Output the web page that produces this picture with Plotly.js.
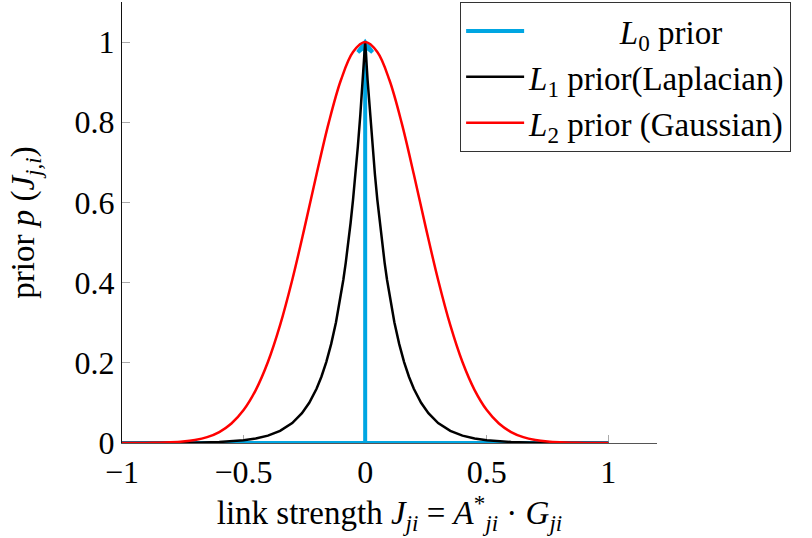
<!DOCTYPE html>
<html>
<head>
<meta charset="utf-8">
<script src="https://cdn.plot.ly/plotly-3.0.1.min.js"></script>
<style>html,body{margin:0;padding:0;background:#fff;}#chart{width:812px;height:538px;}</style>
</head>
<body>
<div id="chart"></div>
<script>
// L0 prior (spike at zero)
const l0X = [-1, 0, 0, -0.03, 0, 0.03, 0, 0, 1];
const l0Y = [0, 0, 0.99, 0.975, 1.0, 0.975, 0.99, 0, 0];

// L1 prior (Laplacian)
const l1X = [-1, -0.9, -0.8, -0.7, -0.6, -0.5, -0.45, -0.4, -0.35, -0.3, -0.26, -0.23, -0.2, -0.18, -0.16, -0.14, -0.12,
  -0.1, -0.09, -0.08, -0.07, -0.06, -0.05, -0.04, -0.03, -0.02, -0.01, 0,
  0.01, 0.02, 0.03, 0.04, 0.05, 0.06, 0.07, 0.08, 0.09, 0.1,
  0.12, 0.14, 0.16, 0.18, 0.2, 0.23, 0.26, 0.3, 0.35, 0.4, 0.45, 0.5, 0.6, 0.7, 0.8, 0.9, 1];
const l1Y = [0, 0.0001, 0.0003, 0.0009, 0.0025, 0.0067, 0.0111, 0.0183, 0.0302, 0.0498, 0.0743, 0.1003, 0.1353, 0.1653, 0.2019, 0.2466, 0.3012,
  0.3679, 0.4066, 0.4493, 0.4966, 0.5488, 0.6065, 0.6703, 0.7408, 0.8187, 0.9048, 1.0,
  0.9048, 0.8187, 0.7408, 0.6703, 0.6065, 0.5488, 0.4966, 0.4493, 0.4066, 0.3679,
  0.3012, 0.2466, 0.2019, 0.1653, 0.1353, 0.1003, 0.0743, 0.0498, 0.0302, 0.0183, 0.0111, 0.0067, 0.0025, 0.0009, 0.0003, 0.0001, 0];

// L2 prior (Gaussian)
const l2X = [-1, -0.95, -0.9, -0.85, -0.8, -0.75, -0.7, -0.65, -0.6, -0.55, -0.5, -0.45, -0.4, -0.35, -0.3, -0.25, -0.2, -0.15, -0.1, -0.05, 0,
  0.05, 0.1, 0.15, 0.2, 0.25, 0.3, 0.35, 0.4, 0.45, 0.5, 0.55, 0.6, 0.65, 0.7, 0.75, 0.8, 0.85, 0.9, 0.95, 1];
const l2Y = [0, 0.0001, 0.0003, 0.0007, 0.0017, 0.0036, 0.0074, 0.0146, 0.0273, 0.0486, 0.0821, 0.1320, 0.2019, 0.2938, 0.4066, 0.5353, 0.6703, 0.7985, 0.9048, 0.9753, 1.0,
  0.9753, 0.9048, 0.7985, 0.6703, 0.5353, 0.4066, 0.2938, 0.2019, 0.1320, 0.0821, 0.0486, 0.0273, 0.0146, 0.0074, 0.0036, 0.0017, 0.0007, 0.0003, 0.0001, 0];

const seriesNames = [
  "\u00A0\u00A0\u00A0\u00A0\u00A0\u00A0\u00A0\u00A0\u00A0\u00A0\u00A0<i>L</i><sub>0</sub> prior",
  "<i>L</i><sub>1</sub> prior(Laplacian)",
  "<i>L</i><sub>2</sub> prior (Gaussian)"
];
const xTickVals = [-1, -0.5, 0, 0.5, 1];
const xTickText = ["\u22121", "\u22120.5", "0", "0.5", "1"];
const yTickVals = [0, 0.2, 0.4, 0.6, 0.8, 1];
const yTickText = ["0", "0.2", "0.4", "0.6", "0.8", "1"];

const FONT = '"Liberation Serif", "Times New Roman", serif';

const traces = [
  {x: l0X, y: l0Y, name: seriesNames[0], mode: "lines", line: {color: "#00a6e2", width: 4}},
  {x: l1X, y: l1Y, name: seriesNames[1], mode: "lines", line: {color: "#000000", width: 2.5}},
  {x: l2X, y: l2Y, name: seriesNames[2], mode: "lines", line: {color: "#ff0000", width: 2.5, shape: "spline", smoothing: 1}}
];

const layout = {
  width: 812, height: 538,
  margin: {l: 122, r: 155, t: 2, b: 95, pad: 0},
  paper_bgcolor: "#ffffff", plot_bgcolor: "#ffffff",
  font: {family: FONT, size: 30, color: "#000"},
  showlegend: true,
  legend: {
    x: 0.632, y: 1, xanchor: "left", yanchor: "top",
    bgcolor: "#ffffff", bordercolor: "#333", borderwidth: 1,
    font: {family: FONT, size: 33, color: "#000"},
    tracegroupgap: 0, itemwidth: 58
  },
  xaxis: {
    range: [-1, 1.2], showgrid: false, zeroline: false,
    showline: true, linecolor: "#555", linewidth: 1.2, layer: "below traces",
    tickmode: "array", tickvals: xTickVals, ticktext: xTickText,
    ticks: "inside", ticklen: 8, tickcolor: "#aaa", tickwidth: 1,
    tickfont: {family: FONT, size: 32, color: "#000"},
    title: {text: "link strength <i>J</i><sub><i>ji</i></sub> = <i>A</i><sup>*</sup><sub><i>ji</i></sub> \u00B7 <i>G</i><sub><i>ji</i></sub>",
            font: {family: FONT, size: 33, color: "#000"}, standoff: 6},
    automargin: false, fixedrange: true
  },
  yaxis: {
    range: [0, 1.1], showgrid: false, zeroline: false,
    showline: true, linecolor: "#111", linewidth: 1.2, layer: "below traces",
    tickmode: "array", tickvals: yTickVals, ticktext: yTickText,
    ticks: "inside", ticklen: 8, tickcolor: "#aaa", tickwidth: 1,
    tickfont: {family: FONT, size: 32, color: "#000"},
    title: {text: "prior <i>p</i> (<i>J</i><sub><i>j,i</i></sub>)",
            font: {family: FONT, size: 33, color: "#000"}, standoff: 29},
    automargin: false, fixedrange: true
  }
};

Plotly.newPlot("chart", traces, layout, {staticPlot: true, displayModeBar: false});
</script>
</body>
</html>
